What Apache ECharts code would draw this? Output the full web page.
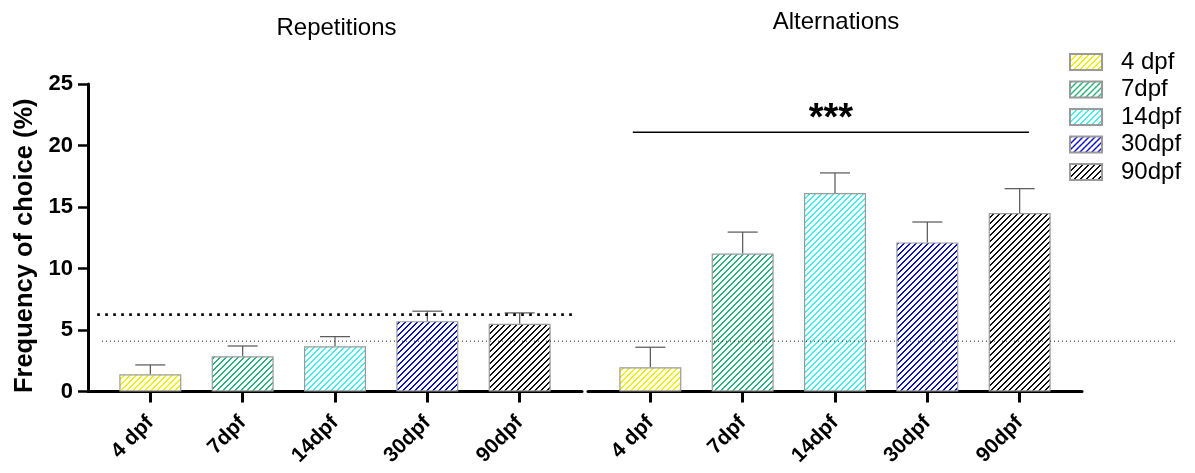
<!DOCTYPE html>
<html><head><meta charset="utf-8">
<script src="https://cdn.jsdelivr.net/npm/echarts@6/dist/echarts.min.js"></script>
<style>html,body{margin:0;padding:0;background:#fff}#c{width:1195px;height:473px}</style>
</head><body><div id="c"></div>
<script>
// ---- data ----
const categories = ['4 dpf', '7dpf', '14dpf', '30dpf', '90dpf'];
const panelTitles = ['Repetitions', 'Alternations'];
const repMean  = [1.40, 2.87, 3.68, 5.72, 5.50];
const repUpper = [2.16, 3.70, 4.46, 6.53, 6.39];
const altMean  = [1.97, 11.22, 16.14, 12.12, 14.51];
const altUpper = [3.60, 12.96, 17.77, 13.78, 16.49];
const yTicks = [0, 5, 10, 15, 20, 25];
const repRefLevel = 6.25;      // thick dotted line (Repetitions)
const chanceLevel = 4.09;      // thin dotted line (both panels)
const repRefSpan = [-0.575, 4.585];
const sigBar = [[-0.19, 4.10, 21.08]];  // [x start, x end, y]
const sigText = '***';
const yName = 'Frequency of choice (%)';

// ---- styles ----
const FONT = "'Liberation Sans', Arial, sans-serif";
const colors = ['#f0f000', '#25b47a', '#40f0f0', '#0a10c8', '#111111'];
function hatch(col) {
  const s = 6, c = document.createElement('canvas');
  c.width = s; c.height = s;
  const g = c.getContext('2d');
  g.fillStyle = '#fff'; g.fillRect(0, 0, s, s);
  g.fillStyle = col;
  for (let x = 0; x < s; x++) for (let y = 0; y < s; y++) {
    if ((x + y) % s < 2) g.fillRect(x, y, 1, 1);
  }
  return c;
}
const patterns = colors.map(c => ({ image: hatch(c), repeat: 'repeat' }));

const X_MIN = -0.675, X_MAX = 4.675;
const gridTop = 84, gridH = 307.5;
const grids = [
  { left: 88, top: gridTop, width: 494, height: gridH },
  { left: 588, top: gridTop, width: 494, height: gridH },
  { left: 102, right: 20, top: gridTop, height: gridH }
];
function xAxisFor(i) {
  return {
    type: 'value', gridIndex: i, min: X_MIN, max: X_MAX,
    splitLine: { show: false },
    axisLine: { show: true, onZero: false, lineStyle: { color: '#000', width: 3 } },
    axisTick: { show: true, customValues: categories.map((_, k) => k), length: 11, lineStyle: { color: '#000', width: 3 } },
    axisLabel: {
      customValues: categories.map((_, k) => k),
      formatter: v => categories[Math.round(v)],
      rotate: 45, margin: 28, color: '#000', fontSize: 21, fontWeight: 'bold', fontFamily: FONT
    }
  };
}
const xAxes = [xAxisFor(0), xAxisFor(1),
  { type: 'value', gridIndex: 2, min: 0, max: 1, show: false }];
const yAxes = [
  {
    type: 'value', gridIndex: 0, min: yTicks[0], max: yTicks[yTicks.length - 1], interval: 5,
    splitLine: { show: false },
    axisLine: { show: true, onZero: false, lineStyle: { color: '#000', width: 3 } },
    axisTick: { show: true, length: 10, lineStyle: { color: '#000', width: 2.5 } },
    axisLabel: { margin: 15, color: '#000', fontSize: 22, fontWeight: 'bold', fontFamily: FONT },
    name: yName, nameLocation: 'middle', nameGap: 50,
    nameTextStyle: { color: '#000', fontSize: 25.5, fontWeight: 'bold', fontFamily: FONT, padding: [0, 16, 0, 0] }
  },
  { type: 'value', gridIndex: 1, min: 0, max: 25, show: false },
  { type: 'value', gridIndex: 2, min: 0, max: 25, show: false }
];

const series = [];
[[repMean, repUpper], [altMean, altUpper]].forEach(([mean, upper], p) => {
  categories.forEach((name, i) => {
    series.push({
      type: 'bar', name, xAxisIndex: p, yAxisIndex: p,
      data: [[i, mean[i]]], barWidth: 62, barGap: '-100%',
      itemStyle: { color: patterns[i], borderColor: '#9a9a9a', borderWidth: 1.2 },
      emphasis: { disabled: true }, z: 2
    });
  });
  series.push({
    type: 'custom', xAxisIndex: p, yAxisIndex: p, z: 1,
    data: categories.map((_, i) => [i, mean[i], upper[i]]),
    encode: { x: 0, y: [1, 2] },
    renderItem(params, api) {
      const x = api.value(0);
      const m = api.coord([x, api.value(1)]), u = api.coord([x, api.value(2)]);
      const hw = 15;
      return { type: 'group', children: [
        { type: 'line', shape: { x1: m[0], y1: m[1], x2: u[0], y2: u[1] }, style: { stroke: '#555', lineWidth: 1.2 } },
        { type: 'line', shape: { x1: u[0] - hw, y1: u[1], x2: u[0] + hw, y2: u[1] }, style: { stroke: '#555', lineWidth: 1.2 } }
      ] };
    }
  });
});
// thick dotted reference line, Repetitions panel
series.push({
  type: 'custom', xAxisIndex: 0, yAxisIndex: 0, z: 6,
  data: [[repRefSpan[0], repRefSpan[1], repRefLevel]],
  renderItem(params, api) {
    const a = api.coord([api.value(0), api.value(2)]), b = api.coord([api.value(1), api.value(2)]);
    return { type: 'line', shape: { x1: a[0], y1: a[1], x2: b[0], y2: b[1] },
      style: { stroke: '#000', lineWidth: 2.6, lineDash: [2.6, 5.4] } };
  }
});
// significance bar, Alternations panel
series.push({
  type: 'custom', xAxisIndex: 1, yAxisIndex: 1, z: 6,
  data: sigBar,
  renderItem(params, api) {
    const a = api.coord([api.value(0), api.value(2)]), b = api.coord([api.value(1), api.value(2)]);
    return { type: 'group', children: [
      { type: 'line', shape: { x1: a[0], y1: a[1], x2: b[0], y2: b[1] }, style: { stroke: '#000', lineWidth: 1.6 } },
      { type: 'text', x: (a[0] + b[0]) / 2, y: a[1] + 6,
        style: { text: sigText, fill: '#000', font: 'bold 38px ' + FONT, align: 'center', verticalAlign: 'bottom' } }
    ] };
  }
});
// thin dotted chance line across both panels
series.push({
  type: 'custom', xAxisIndex: 2, yAxisIndex: 2, z: 7,
  data: [[0, 1, chanceLevel]],
  renderItem(params, api) {
    const a = api.coord([api.value(0), api.value(2)]), b = api.coord([api.value(1), api.value(2)]);
    return { type: 'line', shape: { x1: a[0], y1: a[1], x2: b[0], y2: b[1] },
      style: { stroke: '#222', lineWidth: 1, lineDash: [1, 3] } };
  }
});

const chart = echarts.init(document.getElementById('c'), null, { renderer: 'canvas' });
chart.setOption({
  animation: false,
  backgroundColor: '#fff',
  title: [
    { text: panelTitles[0], left: 336.5, top: 16, textAlign: 'center', padding: 0,
      textStyle: { color: '#000', fontSize: 24, fontWeight: 'normal', fontFamily: FONT } },
    { text: panelTitles[1], left: 836, top: 10, textAlign: 'center', padding: 0,
      textStyle: { color: '#000', fontSize: 24, fontWeight: 'normal', fontFamily: FONT } }
  ],
  legend: {
    data: categories, orient: 'vertical', left: 1069, top: 50, padding: 0,
    itemWidth: 32, itemHeight: 16, itemGap: 3.5, icon: 'rect',
    selectedMode: false,
    textStyle: { color: '#000', fontSize: 24, fontFamily: FONT, padding: [0, 0, 0, 14] }
  },
  grid: grids,
  xAxis: xAxes,
  yAxis: yAxes,
  series
});
</script>
</body></html>
